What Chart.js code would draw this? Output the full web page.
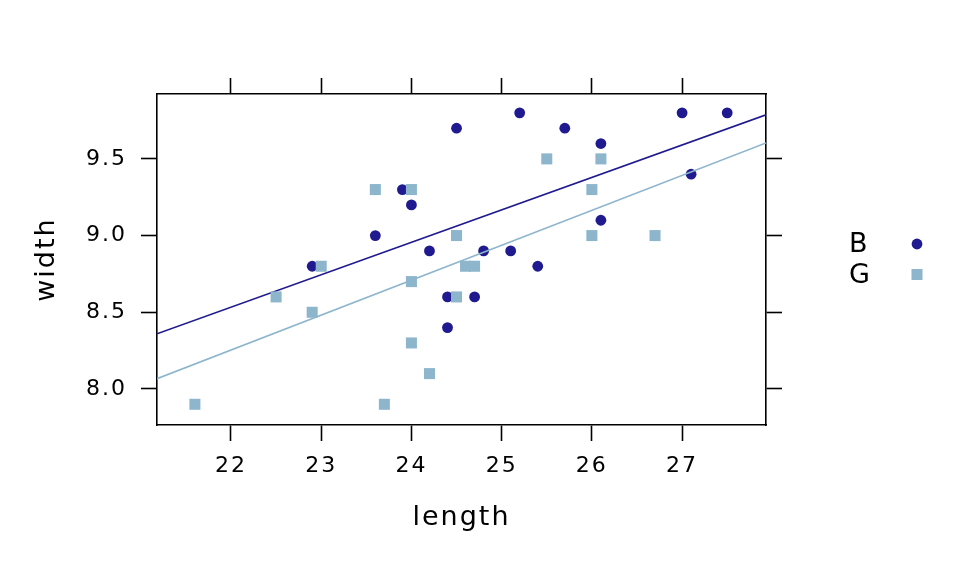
<!DOCTYPE html>
<html lang="en">
<head>
    <meta charset="UTF-8">
    <title>Kids feet: width vs length</title>
    <script src="https://cdn.jsdelivr.net/npm/chart.js"></script>
    <style>
        body { margin: 0; background: #fff; }
    </style>
</head>
<body>
    <canvas id="chart" width="960" height="576"></canvas>

    <script>
        // values
        const boysLength  = [24.4, 25.4, 24.5, 25.2, 25.1, 25.7, 26.1, 23.6, 24.7, 27.0, 27.1, 26.1, 24.4, 24.2, 23.9, 24.0, 24.8, 27.5, 22.9];
        const boysWidth   = [ 8.4,  8.8,  9.7,  9.8,  8.9,  9.7,  9.6,  9.0,  8.6,  9.8,  9.4,  9.1,  8.6,  8.9,  9.3,  9.2,  8.9,  9.8,  8.8];
        const girlsLength = [23.0, 21.6, 26.7, 24.0, 24.5, 24.0, 24.2, 23.7, 23.6, 24.7, 24.6, 24.0, 25.5, 26.0, 26.1, 26.0, 22.5, 22.9, 24.5];
        const girlsWidth  = [ 8.8,  7.9,  9.0,  8.3,  8.6,  8.7,  8.1,  7.9,  9.3,  8.8,  8.8,  9.3,  9.5,  9.3,  9.5,  9.0,  8.6,  8.5,  9.0];

        // fitted lines, read at the two panel edges
        const fitLength = [21.18, 27.93];
        const fitBoys   = [8.36, 9.787];
        const fitGirls  = [8.067, 9.604];

        const xTicks = [22, 23, 24, 25, 26, 27];
        const yTicks = [8.0, 8.5, 9.0, 9.5];
        const xRange = [21.18, 27.93];
        const yRange = [7.765, 9.923];

        const navy = '#1f1a8f';
        const light = '#8db6cd';
        const font = 'DejaVu Sans';

        const toPoints = (xs, ys) => xs.map((x, i) => ({ x: x, y: ys[i] }));

        const setTicks = (list) => (scale) => { scale.ticks = list.map(v => ({ value: v })); };

        const axisBase = {
            type: 'linear',
            grid: { drawOnChartArea: false, tickLength: 16, tickWidth: 1.6, tickColor: '#000' },
            border: { display: true, color: '#000', width: 1.6 }
        };

        // the reference text is a little spread out
        const spacingPlugin = {
            id: 'spacing',
            beforeInit(chart) { chart.ctx.letterSpacing = '2px'; },
            beforeDraw(chart) { chart.ctx.letterSpacing = '2px'; }
        };

        // small legend to the right of the panel, label first then symbol
        const keyPlugin = {
            id: 'key',
            afterDraw(chart) {
                const ctx = chart.ctx;
                const area = chart.chartArea;
                const midY = (area.top + area.bottom) / 2;
                const items = [
                    { text: 'B', style: 'circle', radius: 5.4, color: navy, dy: -15.5 },
                    { text: 'G', style: 'rect', radius: 7.8, color: light, dy: 15 }
                ];
                ctx.save();
                ctx.font = '27px "' + font + '"';
                ctx.textBaseline = 'middle';
                items.forEach(it => {
                    ctx.fillStyle = '#000';
                    ctx.fillText(it.text, area.right + 83, midY + it.dy + 1);
                    ctx.fillStyle = it.color;
                    Chart.helpers.drawPoint(ctx, { pointStyle: it.style, radius: it.radius, rotation: 0, borderWidth: 0 },
                        area.right + 151, midY + it.dy);
                });
                ctx.restore();
            }
        };

        const ctx = document.getElementById('chart').getContext('2d');

        new Chart(ctx, {
            type: 'scatter',
            data: {
                datasets: [
                    {
                        label: 'B',
                        data: toPoints(boysLength, boysWidth),
                        pointStyle: 'circle',
                        pointRadius: 5.4,
                        pointBorderWidth: 0,
                        backgroundColor: navy,
                        borderColor: navy,
                        order: 4
                    },
                    {
                        type: 'line',
                        label: 'B fit',
                        data: toPoints(fitLength, fitBoys),
                        borderColor: navy,
                        borderWidth: 1.6,
                        pointRadius: 0,
                        fill: false,
                        order: 3
                    },
                    {
                        label: 'G',
                        data: toPoints(girlsLength, girlsWidth),
                        pointStyle: 'rect',
                        pointRadius: 7.8,
                        pointBorderWidth: 0,
                        backgroundColor: light,
                        borderColor: light,
                        order: 2
                    },
                    {
                        type: 'line',
                        label: 'G fit',
                        data: toPoints(fitLength, fitGirls),
                        borderColor: light,
                        borderWidth: 1.6,
                        pointRadius: 0,
                        fill: false,
                        order: 1
                    }
                ]
            },
            options: {
                responsive: false,
                animation: false,
                devicePixelRatio: 1,
                layout: { padding: { left: 0, top: 0, right: 0, bottom: 30 } },
                plugins: {
                    legend: { display: false },
                    tooltip: { enabled: false }
                },
                scales: {
                    x: {
                        ...axisBase,
                        position: 'bottom',
                        min: xRange[0],
                        max: xRange[1],
                        afterBuildTicks: setTicks(xTicks),
                        afterFit: (s) => { s.height = 576 - 425 - 30; },
                        ticks: { color: '#000', padding: 12, font: { family: font, size: 22 }, callback: (v) => String(v) },
                        title: { display: true, text: 'length', color: '#000', font: { family: font, size: 27 }, padding: { top: 0, bottom: 12 } }
                    },
                    x2: {
                        ...axisBase,
                        position: 'top',
                        min: xRange[0],
                        max: xRange[1],
                        afterBuildTicks: setTicks(xTicks),
                        afterFit: (s) => { s.height = 94; },
                        ticks: { display: false }
                    },
                    y: {
                        ...axisBase,
                        position: 'left',
                        min: yRange[0],
                        max: yRange[1],
                        afterBuildTicks: setTicks(yTicks),
                        afterFit: (s) => { s.width = 157; },
                        ticks: { color: '#000', padding: 14, font: { family: font, size: 22 }, callback: (v) => v.toFixed(1) },
                        title: { display: true, text: 'width', color: '#000', font: { family: font, size: 27 }, padding: { top: 31, bottom: 0 } }
                    },
                    y2: {
                        ...axisBase,
                        position: 'right',
                        min: yRange[0],
                        max: yRange[1],
                        afterBuildTicks: setTicks(yTicks),
                        afterFit: (s) => { s.width = 960 - 766; },
                        ticks: { display: false }
                    }
                }
            },
            plugins: [spacingPlugin, keyPlugin]
        });
    </script>
</body>
</html>
